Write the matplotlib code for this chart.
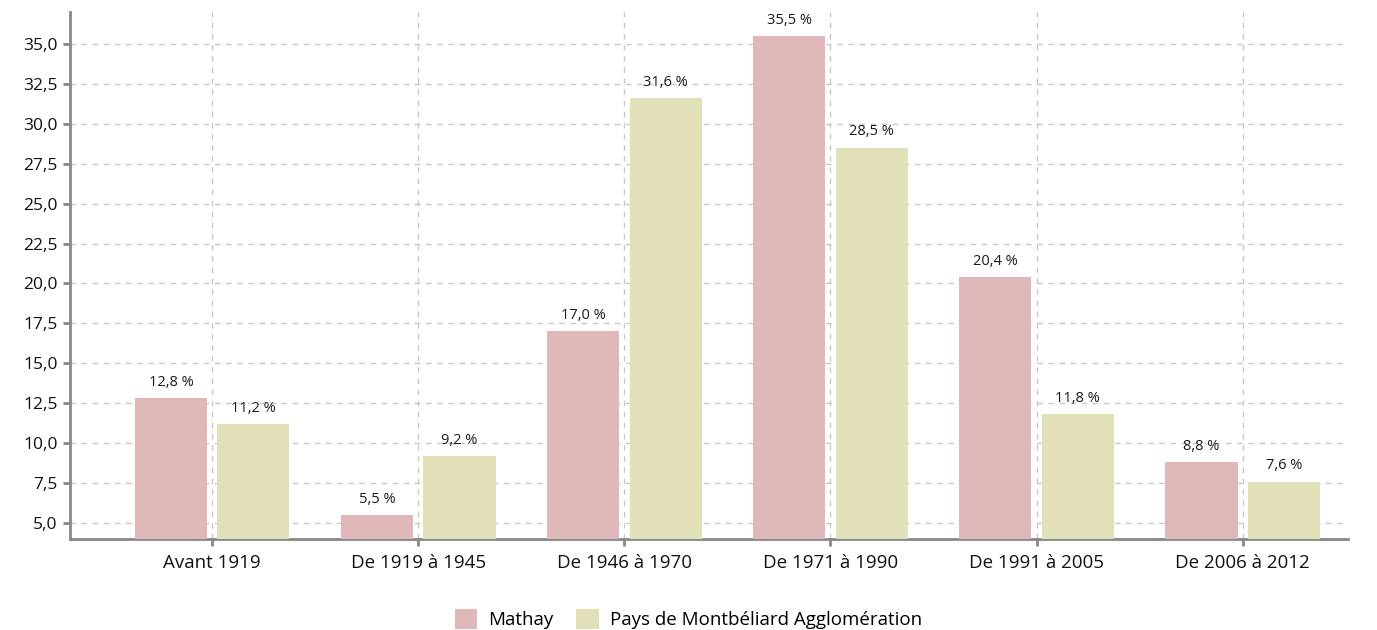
import matplotlib.pyplot as plt
import numpy as np

categories = ['Avant 1919', 'De 1919 à 1945', 'De 1946 à 1970', 'De 1971 à 1990',
              'De 1991 à 2005', 'De 2006 à 2012']
mathay = [12.8, 5.5, 17.0, 35.5, 20.4, 8.8]
pma = [11.2, 9.2, 31.6, 28.5, 11.8, 7.6]
series_names = ['Mathay', 'Pays de Montbéliard Agglomération']
yticks = [5.0, 7.5, 10.0, 12.5, 15.0, 17.5, 20.0, 22.5, 25.0, 27.5, 30.0, 32.5, 35.0]

plt.rcParams['font.family'] = ['Open Sans', 'DejaVu Sans']

fig = plt.figure(figsize=(13.77, 6.3), dpi=100)
ax = fig.add_axes([0.0508, 0.1444, 0.928, 0.8366])

x = np.arange(len(categories))
w = 0.35
b1 = ax.bar(x - 0.2, mathay, w, bottom=0, color='#e0b8b9', label=series_names[0], zorder=3)
b2 = ax.bar(x + 0.2, pma, w, bottom=0, color='#e2e0b8', label=series_names[1], zorder=3)

def fmt(v):
    return ('%.1f' % v).replace('.', ',') + ' %'

for bars, vals in ((b1, mathay), (b2, pma)):
    for r, v in zip(bars, vals):
        ax.annotate(fmt(v), (r.get_x() + r.get_width() / 2, v), xytext=(0, 6),
                    textcoords='offset points', ha='center', va='bottom',
                    fontsize=10.5, color='#1a1a1a')

ax.set_xlim(-0.69, 5.51)
ax.set_ylim(4.0, 37.0)
ax.set_xticks(x)
ax.set_xticklabels(categories, fontsize=13.5)
ax.set_yticks(yticks)
ax.set_yticklabels([('%.1f' % t).replace('.', ',') for t in yticks], fontsize=12.5)

ax.grid(True, color='#c8c8c8', linestyle=(0, (4, 4)), linewidth=1, zorder=0)
for s in ('top', 'right'):
    ax.spines[s].set_visible(False)
for s in ('left', 'bottom'):
    ax.spines[s].set_color('#888888')
    ax.spines[s].set_linewidth(2)
ax.tick_params(axis='both', color='#888888', width=2, length=5, pad=6, labelcolor='#111111')
ax.tick_params(axis='y', pad=4)

fig.legend(handles=[b1, b2], labels=series_names, loc='center', bbox_to_anchor=(0.5, 0.017),
           ncol=2, frameon=False, fontsize=13.5, handlelength=1.2, handleheight=1.2,
           columnspacing=1.2, handletextpad=0.6)

fig.savefig('out.png', dpi=100)
